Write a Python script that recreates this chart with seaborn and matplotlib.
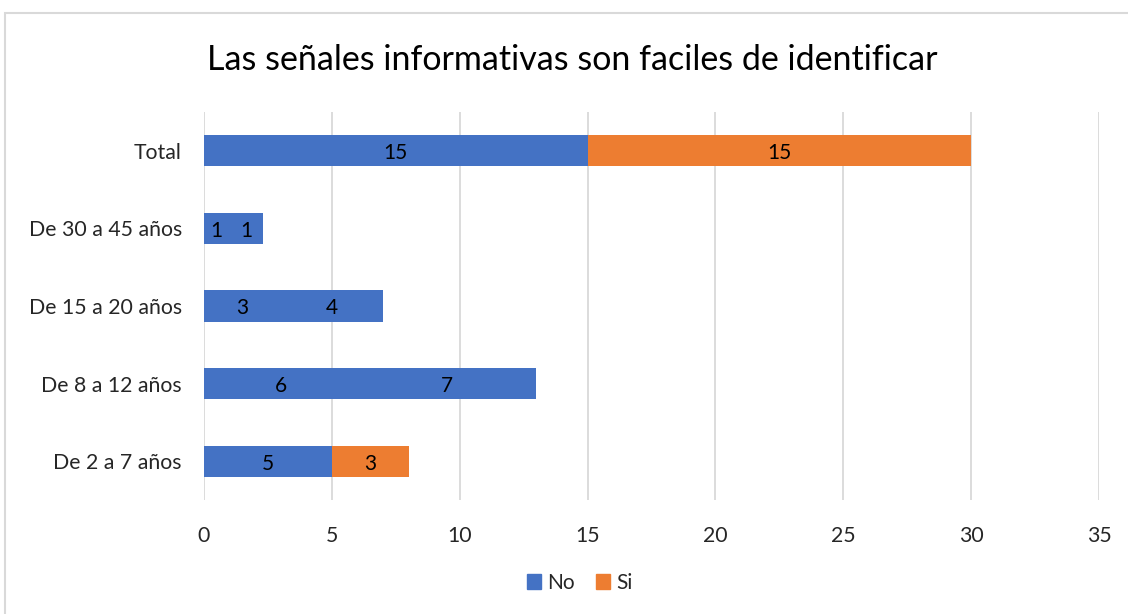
import matplotlib
matplotlib.use("Agg")
import matplotlib.pyplot as plt
import seaborn as sns
import pandas as pd
from matplotlib.patches import Patch, Rectangle

categorias = ["Total", "De 30 a 45 años", "De 15 a 20 años", "De 8 a 12 años", "De 2 a 7 años"]
no_vals = [15, 1, 3, 6, 5]
si_vals = [15, 1.3, 4, 7, 3]
etiquetas_no = ["15", "1", "3", "6", "5"]
etiquetas_si = ["15", "1", "4", "7", "3"]

AZUL = "#4472C4"
NARANJA = "#ED7D31"
# los segmentos "Si" de las filas intermedias salen en azul en el original
color_si = [NARANJA, AZUL, AZUL, AZUL, NARANJA]

df = pd.DataFrame({"cat": categorias, "no": no_vals, "si": si_vals})
df["total"] = df["no"] + df["si"]

sns.set_style("white")
plt.rcParams["font.family"] = ["Lato", "DejaVu Sans"]

fig = plt.figure(figsize=(11.28, 6.14), dpi=100)
ax = fig.add_axes([204 / 1128, 1 - 500 / 614, (1099 - 204) / 1128, 388 / 614])

sns.barplot(data=df, y="cat", x="total", hue="cat", palette=color_si, order=categorias,
            width=0.4, saturation=1, legend=False, linewidth=0, ax=ax, zorder=3)
sns.barplot(data=df, y="cat", x="no", color=AZUL, order=categorias,
            width=0.4, saturation=1, linewidth=0, ax=ax, zorder=4)

for i in range(len(categorias)):
    ax.text(no_vals[i] / 2, i + 0.03, etiquetas_no[i], ha="center", va="center",
            fontsize=15, color="#000000", zorder=5)
    ax.text(no_vals[i] + si_vals[i] / 2, i + 0.03, etiquetas_si[i], ha="center", va="center",
            fontsize=15, color="#000000", zorder=5)

ax.set_xlim(0, 35)
ax.set_xticks(range(0, 36, 5))
ax.grid(axis="x", color="#D9D9D9", linewidth=1.3, zorder=0)
ax.grid(axis="y", visible=False)
for s in ax.spines.values():
    s.set_visible(False)
ax.tick_params(axis="both", length=0, labelsize=15.3, colors="#262626")
ax.tick_params(axis="x", pad=19)
ax.tick_params(axis="y", pad=16)
ax.set_xlabel("")
ax.set_ylabel("")

fig.text(0.5075, 1 - 60 / 614, "Las señales informativas son faciles de identificar",
         ha="center", va="center", fontsize=24.5, color="#000000")

fig.legend(handles=[Patch(color=AZUL, label="No"), Patch(color=NARANJA, label="Si")],
           loc="center", bbox_to_anchor=(0.514, 1 - 583 / 614), ncol=2, frameon=False,
           fontsize=15, handlelength=0.7, handleheight=0.7, columnspacing=1.0,
           handletextpad=0.3)

fig.patches.append(Rectangle((5 / 1128, -0.05), 1.2, 1 - 13 / 614 + 0.05,
                             transform=fig.transFigure, fill=False,
                             edgecolor="#D9D9D9", linewidth=1.5))

fig.savefig("out.png", dpi=100)
